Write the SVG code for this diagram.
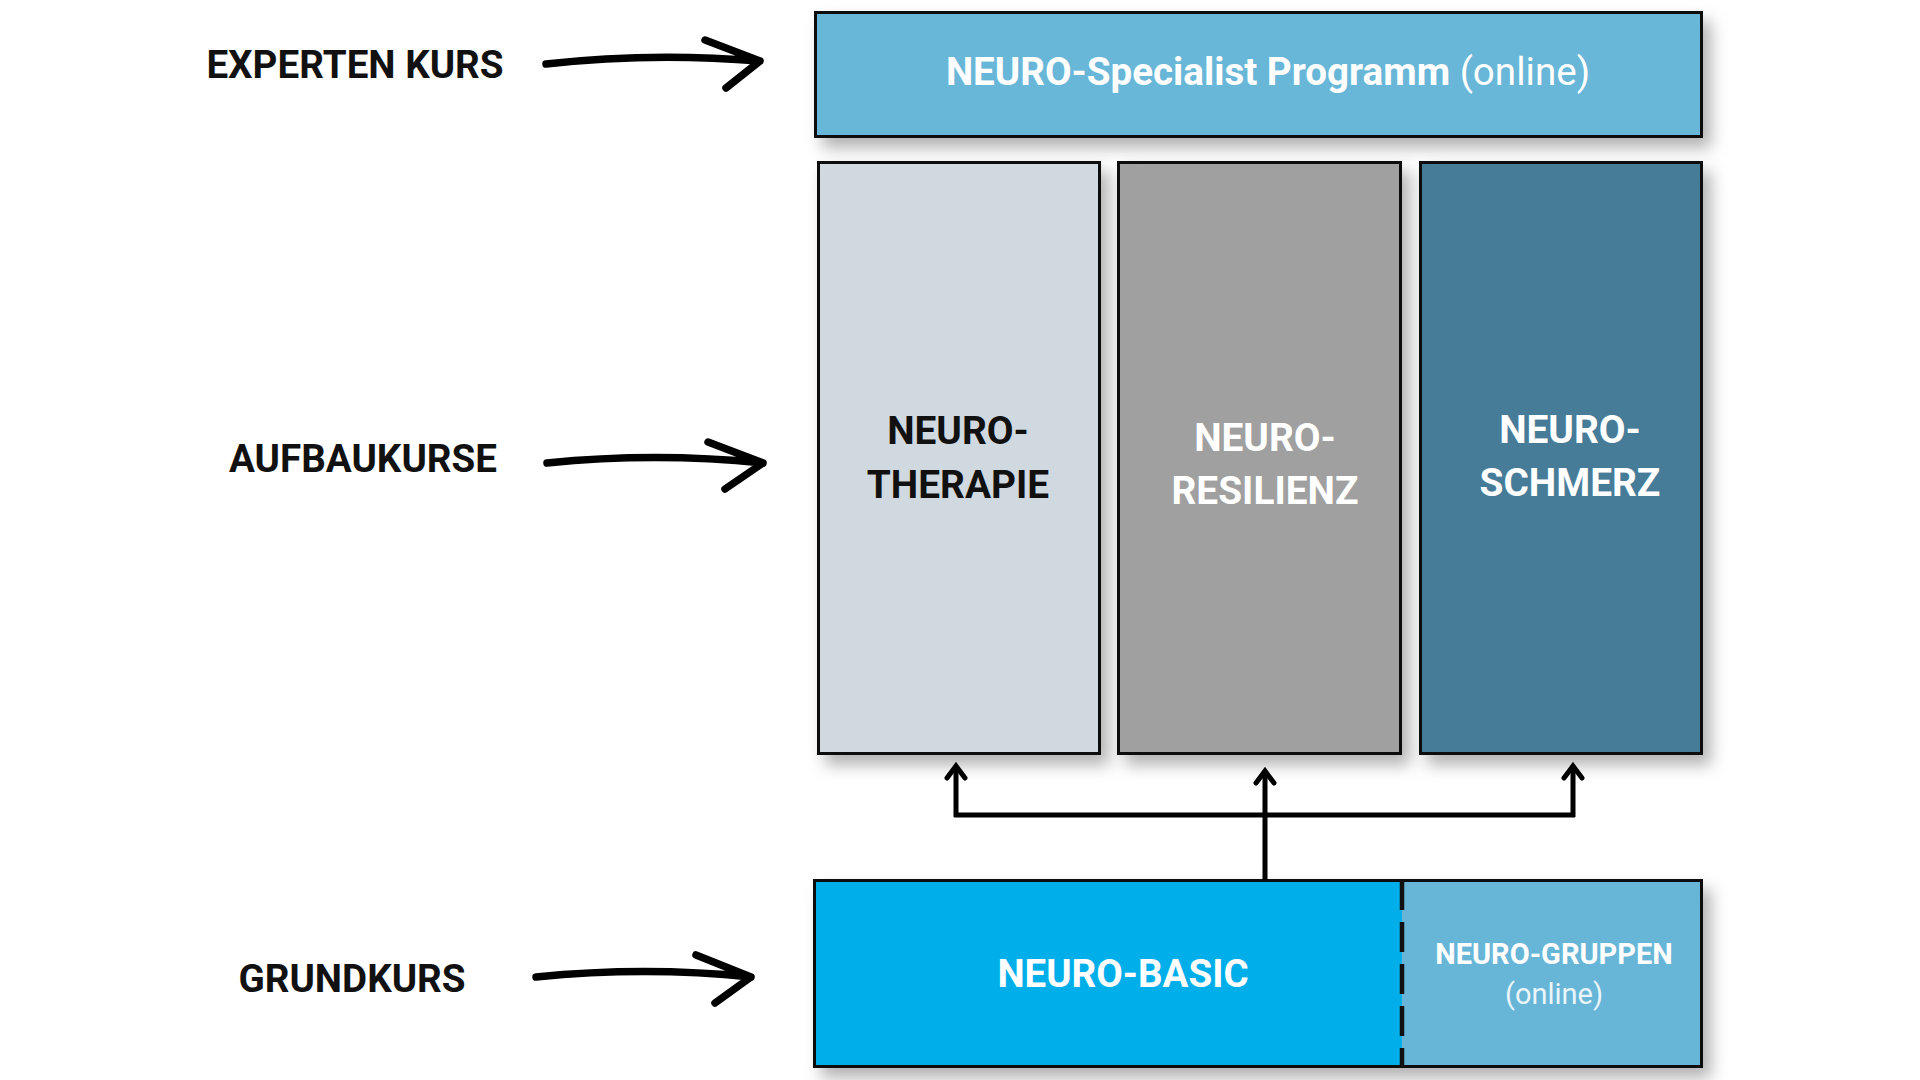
<svg xmlns="http://www.w3.org/2000/svg" width="1920" height="1080" viewBox="0 0 1920 1080">
<style>
.lbl{font-family:Roboto,"Liberation Sans",sans-serif;font-weight:700;font-size:38.6px;fill:#111;text-anchor:middle}
.box{stroke:#111;stroke-width:3}
.t{font-family:Roboto,"Liberation Sans",sans-serif;font-weight:700;text-anchor:middle}
.hand{fill:none;stroke:#000;stroke-width:7.5;stroke-linecap:round;stroke-linejoin:round}
.conn{fill:none;stroke:#000;stroke-width:5}
.head{fill:none;stroke:#000;stroke-width:5;stroke-linecap:round;stroke-linejoin:miter}
</style>
<defs>
<filter id="sh" x="-10%" y="-10%" width="130%" height="130%">
<feDropShadow dx="8" dy="10" stdDeviation="8" flood-color="#000" flood-opacity="0.3"/>
</filter>
</defs>
<rect width="1920" height="1080" fill="#fff"/>

<g id="label-experten">
<text class="lbl" x="355" y="78">EXPERTEN KURS</text>
</g>
<g id="label-aufbau">
<text class="lbl" x="363" y="472">AUFBAUKURSE</text>
</g>
<g id="label-grund">
<text class="lbl" x="352" y="992">GRUNDKURS</text>
</g>

<g id="node-specialist">
<rect class="box" x="815.5" y="12.5" width="886" height="124" fill="#67B6D8" filter="url(#sh)"/>
<text class="t" x="1268" y="85" font-size="38.6" fill="#fff">NEURO-Specialist Programm <tspan font-weight="400">(online)</tspan></text>
</g>

<g id="node-therapie">
<rect class="box" x="818.5" y="162.5" width="281" height="591" fill="#D1D9E0" filter="url(#sh)"/>
<text class="t" font-size="38.8" fill="#111"><tspan x="958" y="444">NEURO-</tspan><tspan x="958" y="498">THERAPIE</tspan></text>
</g>

<g id="node-resilienz">
<rect class="box" x="1118.5" y="162.5" width="282" height="591" fill="#A0A0A0" stroke="#333" filter="url(#sh)"/>
<text class="t" font-size="38.8" fill="#fff"><tspan x="1265" y="451">NEURO-</tspan><tspan x="1265" y="504">RESILIENZ</tspan></text>
</g>

<g id="node-schmerz">
<rect class="box" x="1420.5" y="162.5" width="281" height="591" fill="#477C99" filter="url(#sh)"/>
<text class="t" font-size="38.8" fill="#fff"><tspan x="1570" y="443">NEURO-</tspan><tspan x="1570" y="496">SCHMERZ</tspan></text>
</g>

<g id="node-basic">
<rect class="box" x="814.5" y="880.5" width="887" height="186" fill="#00AEEA" filter="url(#sh)"/>
<rect x="1402" y="882" width="298" height="183" fill="#67B6D8"/>
<line x1="1402" y1="880" x2="1402" y2="1067" stroke="#111" stroke-width="4.5" stroke-dasharray="30 12"/>
<text class="t" x="1123" y="987" font-size="38.5" fill="#fff">NEURO-BASIC</text>
</g>

<g id="node-gruppen">
<text class="t" font-size="29" fill="#fff"><tspan x="1554" y="964">NEURO-GRUPPEN</tspan><tspan x="1554" y="1004" font-weight="400" fill="#EAF5FA">(online)</tspan></text>
</g>

<g id="connectors">
<path class="conn" d="M1265 880 V772 M954 815 H1575 M956 817 V768 M1573 817 V768"/>
<path class="head" d="M947 778 L956 766 L965 778 M1256 783 L1265 771 L1274 783 M1564 778 L1573 766 L1582 778"/>
<path class="hand" d="M546 64 Q650 52 760 61 M705 40 L760 61 L726 88"/>
<path class="hand" d="M547 463 Q655 452 763 463 M708 442 L763 463 L725 489"/>
<path class="hand" d="M536 977 Q645 966 751 977 M696 955 L751 977 L715 1003"/>
</g>
</svg>
